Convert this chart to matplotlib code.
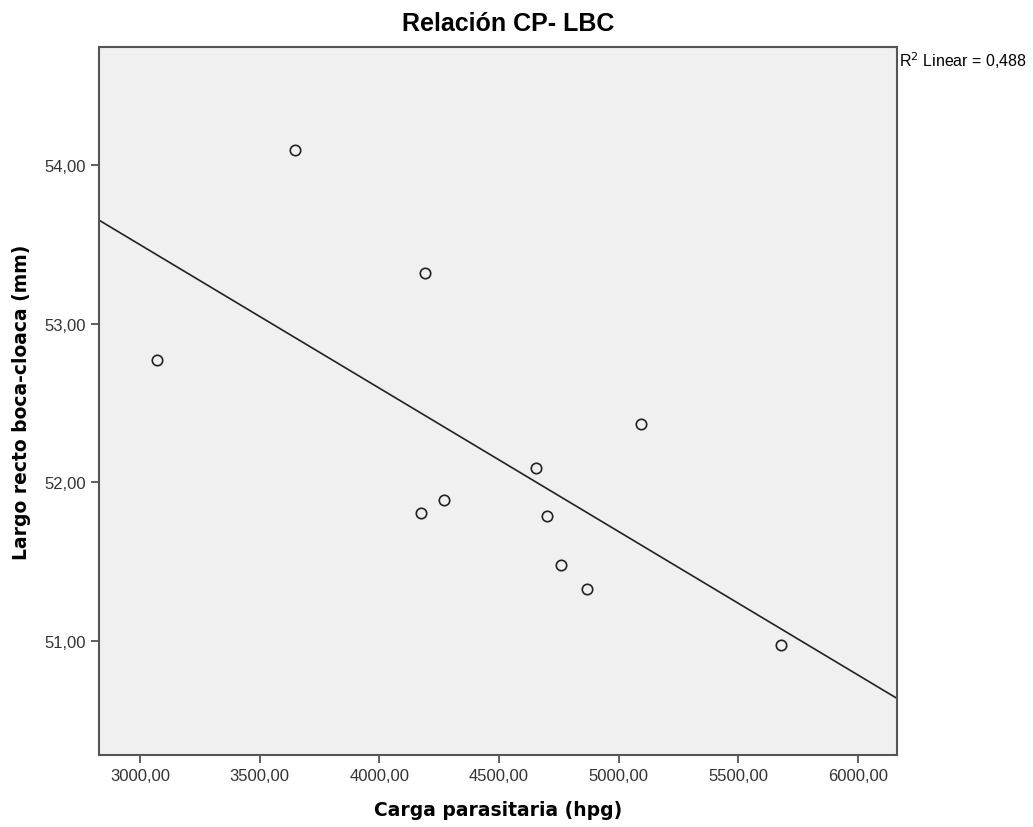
import matplotlib.pyplot as plt
import numpy as np
from matplotlib.ticker import FuncFormatter

# datos
carga = [3071, 3647, 4190, 5094, 4654, 4271, 4174, 4701, 4759, 4868, 5677]
largo = [52.77, 54.09, 53.32, 52.37, 52.09, 51.89, 51.81, 51.79, 51.48, 51.33, 50.98]
xticks = [3000, 3500, 4000, 4500, 5000, 5500, 6000]
yticks = [51, 52, 53, 54]

plt.rcParams['font.family'] = ['Liberation Sans', 'DejaVu Sans']

fig = plt.figure(figsize=(10.33, 8.28), dpi=100)
ax = fig.add_axes([0.0963, 0.087, 0.772, 0.855])
ax.set_facecolor('#f0f0f0')

x = np.array(carga)
y = np.array(largo)
b, a = np.polyfit(x, y, 1)
r2 = np.corrcoef(x, y)[0, 1] ** 2

xmin, xmax = 2831, 6163
xx = np.array([xmin, xmax])
ax.plot(xx, a + b * xx, color='#222222', lw=1.2, zorder=2)
ax.plot(x, y, 'o', ms=7.5, mfc='none', mec='#222222', mew=1.2, zorder=3)

ax.set_xlim(xmin, xmax)
ax.set_ylim(50.285, 54.74)
ax.set_xticks(xticks)
ax.set_yticks(yticks)
coma = FuncFormatter(lambda v, p: ('%.2f' % v).replace('.', ','))
ax.xaxis.set_major_formatter(coma)
ax.yaxis.set_major_formatter(coma)
ax.tick_params(direction='out', length=6, width=1.2, color='#444444',
               labelcolor='#333333', labelsize=12)
for s in ax.spines.values():
    s.set_color('#555555')
    s.set_linewidth(1.5)

ax.set_xlabel('Carga parasitaria (hpg)', fontsize=13.5, fontweight='bold',
              family='DejaVu Sans', labelpad=12)
ax.set_ylabel('Largo recto boca-cloaca (mm)', fontsize=13.5, fontweight='bold',
              family='DejaVu Sans', labelpad=10)
ax.set_title('Relación CP- LBC', fontsize=18, fontweight='bold', x=0.512, pad=12)
ax.text(1.003, 0.997, 'R$^2$ Linear = %s' % ('%.3f' % r2).replace('.', ','),
        transform=ax.transAxes, ha='left', va='top', fontsize=11.5)

plt.savefig('out.png', dpi=100)
